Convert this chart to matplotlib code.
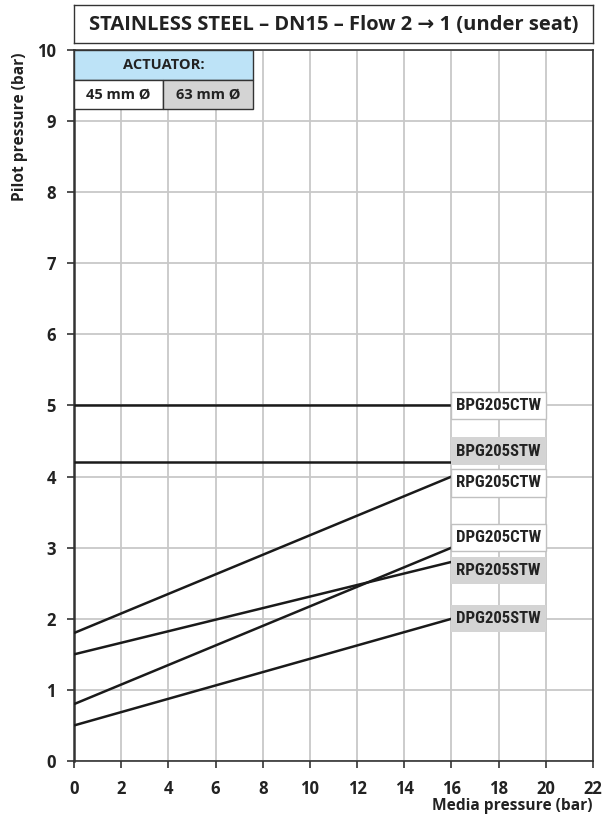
import re
import matplotlib
matplotlib.use("Agg")
import matplotlib.pyplot as plt
from matplotlib.patches import Rectangle
from matplotlib import font_manager
from matplotlib.font_manager import FontProperties

# ---- data ----
models = ["BPG205CTW", "BPG205STW", "RPG205CTW", "DPG205CTW", "RPG205STW", "DPG205STW"]
actuator = ["45", "63", "45", "45", "63", "63"]
p_start = [5.0, 4.2, 1.8, 0.8, 1.5, 0.5]
p_end = [5.0, 4.2, 4.0, 3.0, 2.8, 2.0]
media_start = 0
media_end = 16
label_y = [5.0, 4.36, 3.91, 3.14, 2.68, 2.0]
x_ticks = list(range(0, 23, 2))
y_ticks = list(range(0, 11))
title = "STAINLESS STEEL – DN15 – Flow 2 → 1 (under seat)"
xlabel = "Media pressure (bar)"
ylabel = "Pilot pressure (bar)"

names = {f.name for f in font_manager.fontManager.ttflist}
main_font = "Open Sans" if "Open Sans" in names else "DejaVu Sans"

# find a narrow bold font file
files = [f.fname for f in font_manager.fontManager.ttflist]
patterns = [r"LiberationSansNarrow-Bold\.", r"NotoSans-CondensedBold\.", r"RobotoCondensed-Bold\.",
            r"Roboto_Condensed-Bold\.", r"OpenSans.*Cond.*Bold\.", r"DejaVuSansCondensed-Bold\."]
narrow_fp = None
for p in patterns:
    for fn in files:
        if re.search(p, fn.split('/')[-1]):
            narrow_fp = FontProperties(fname=fn)
            break
    if narrow_fp is not None:
        break
if narrow_fp is None:
    narrow_fp = FontProperties(family='DejaVu Sans', weight='bold', stretch='condensed')

plt.rcParams['font.family'] = [main_font, 'DejaVu Sans']

fig = plt.figure(figsize=(6.14, 8.27), dpi=100)
ax = fig.add_axes([74/614, 1-761/827, (593-74)/614, (761-50)/827])
ax.set_xlim(0, 22)
ax.set_ylim(0, 10)
ax.set_xticks(x_ticks)
ax.set_yticks(y_ticks)
ax.set_xticklabels([str(v) for v in x_ticks], fontweight='bold', fontsize=12, color='#222222')
ax.set_yticklabels([str(v) for v in y_ticks], fontweight='bold', fontsize=12, color='#222222')
ax.grid(True, color='#c8c8c8', linewidth=1.3, zorder=0)
ax.set_axisbelow(True)
for s in ax.spines.values():
    s.set_color('#333333')
    s.set_linewidth(1.2)
ax.spines['left'].set_linewidth(1.8)
ax.tick_params(direction='out', length=5, width=1.2, color='#333333')
ax.tick_params(axis='x', pad=9)
ax.tick_params(axis='y', pad=8)

# lines
for ys, ye in zip(p_start, p_end):
    ax.plot([media_start, media_end], [ys, ye], color='#1a1a1a', linewidth=1.8, zorder=3,
            solid_capstyle='butt')

# label boxes
bh = 0.38
label_texts = []
for m, a, ly in zip(models, actuator, label_y):
    if a == "45":
        rect = Rectangle((16, ly - bh/2), 4, bh, facecolor='white', edgecolor='#c0c0c0',
                         linewidth=1.0, zorder=4)
    else:
        rect = Rectangle((16, ly - bh/2), 4, bh, facecolor='#d4d4d4', edgecolor='none',
                         zorder=4)
    ax.add_patch(rect)
    fp = narrow_fp.copy()
    fp.set_size(13)
    t = ax.text(18, ly, m, ha='center', va='center', fontproperties=fp,
                color='#222222', zorder=5)
    label_texts.append(t)

# fit label width to ~85 px
renderer = fig.canvas.get_renderer()
w = label_texts[0].get_window_extent(renderer).width
size = min(13.5, 13.0 * 85.0 / w)
for t in label_texts:
    t.set_fontsize(size)

# actuator table
x_end = 7.58
x_mid = 3.78
ax.add_patch(Rectangle((0, 9.58), x_end, 0.42, facecolor='#bde3f7', edgecolor='#333333',
                       linewidth=1.0, zorder=4))
ax.add_patch(Rectangle((0, 9.17), x_mid, 0.41, facecolor='white', edgecolor='#333333',
                       linewidth=1.0, zorder=4))
ax.add_patch(Rectangle((x_mid, 9.17), x_end - x_mid, 0.41, facecolor='#d4d4d4', edgecolor='#333333',
                       linewidth=1.0, zorder=4))
ax.text(x_end/2, 9.79, "ACTUATOR:", ha='center', va='center', fontsize=10.5, fontweight='bold',
        color='#222222', zorder=5)
ax.text(x_mid/2, 9.375, "45 mm Ø", ha='center', va='center', fontsize=10.5, fontweight='bold',
        color='#222222', zorder=5)
ax.text((x_mid + x_end)/2, 9.375, "63 mm Ø", ha='center', va='center', fontsize=10.5, fontweight='bold',
        color='#222222', zorder=5)

# title box
tax = fig.add_axes([74/614, 1-43/827, (593-74)/614, 38/827])
tax.set_xticks([]); tax.set_yticks([])
for s in tax.spines.values():
    s.set_color('#333333'); s.set_linewidth(1.0)
tax.text(0.5, 0.48, title, ha='center', va='center', fontsize=14.5, fontweight='bold',
         color='#222222', transform=tax.transAxes, family=[main_font, 'DejaVu Sans'])

fig.text(593/614, 1-806/827, xlabel, ha='right', va='center', fontsize=11.2, fontweight='bold',
         color='#222222')
fig.text(20/614, 1-127/827, ylabel, ha='center', va='center', rotation=90, fontsize=11.2,
         fontweight='bold', color='#222222')

fig.savefig("out.png", dpi=100)
